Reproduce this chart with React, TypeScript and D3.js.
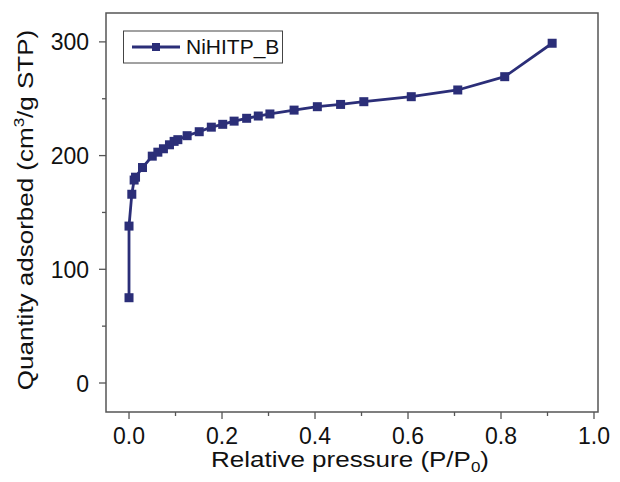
import React from "react";
import * as d3 from "d3";

const pressure = [0.0, 0.0, 0.006, 0.011, 0.014, 0.029, 0.05, 0.062, 0.074, 0.087, 0.097, 0.105, 0.125, 0.151, 0.177, 0.2015, 0.226, 0.253, 0.278, 0.303, 0.355, 0.405, 0.455, 0.505, 0.607, 0.707, 0.808, 0.91];
const quantity = [75, 138, 166, 178.5, 181, 189.5, 199.5, 203, 206, 209.5, 212.5, 214, 217.5, 221, 225, 227.5, 230.3, 232.8, 234.8, 236.6, 240, 243, 245, 247.4, 251.8, 257.7, 269.4, 298.8];
const seriesName = "NiHITP_B";
const xTicks = [0, 0.2, 0.4, 0.6, 0.8, 1.0];
const xMinorTicks = [0.1, 0.3, 0.5, 0.7, 0.9];
const yTicks = [0, 100, 200, 300];
const yMinorTicks = [50, 150, 250];

const W = 620, H = 482;
const left = 106, right = 598, top = 13, bottom = 412;
const color = "#2B2E78";
const frameColor = "#555555";
const font = "'Liberation Sans', Arial, sans-serif";

export default function App() {
  const x = d3.scaleLinear().domain([-0.0495, 1.0086]).range([left, right]);
  const y = d3.scaleLinear().domain([-25.5, 325.4]).range([bottom, top]);
  const pts: [number, number][] = pressure.map((p, i) => [x(p), y(quantity[i])]);
  const line = d3.line()(pts) || "";
  const ms = 9;
  return (
    <svg width={W} height={H} style={{ position: "absolute", left: 0, top: 0, display: "block" }} fontFamily={font}>
      <rect x={0} y={0} width={W} height={H} fill="white" />
      <rect x={left} y={top} width={right - left} height={bottom - top} fill="none" stroke={frameColor} strokeWidth={1.5} />
      {xTicks.map((t) => (
        <g key={"xt" + t}>
          <line x1={x(t)} x2={x(t)} y1={bottom} y2={bottom + 7} stroke={frameColor} strokeWidth={1.3} />
          <text x={x(t)} y={444} textAnchor="middle" fontSize={23} fill="#111">{t.toFixed(1)}</text>
        </g>
      ))}
      {xMinorTicks.map((t) => (
        <line key={"xm" + t} x1={x(t)} x2={x(t)} y1={bottom} y2={bottom + 4} stroke={frameColor} strokeWidth={1.3} />
      ))}
      {yTicks.map((t) => (
        <g key={"yt" + t}>
          <line x1={left - 7} x2={left} y1={y(t)} y2={y(t)} stroke={frameColor} strokeWidth={1.3} />
          <text x={89} y={y(t) + 8.5} textAnchor="end" fontSize={23} fill="#111">{t}</text>
        </g>
      ))}
      {yMinorTicks.map((t) => (
        <line key={"ym" + t} x1={left - 4} x2={left} y1={y(t)} y2={y(t)} stroke={frameColor} strokeWidth={1.3} />
      ))}
      <g transform="translate(350, 467) scale(1, 0.83)">
        <text x={0} y={0} textAnchor="middle" fontSize={26} fill="#111">
          Relative pressure (P/P<tspan fontSize={17} dy={6}>0</tspan><tspan dy={-6}>)</tspan>
        </text>
      </g>
      <g transform="translate(33, 210) rotate(-90) scale(1, 0.88)">
        <text x={0} y={0} textAnchor="middle" fontSize={26} fill="#111">
          Quantity adsorbed (cm<tspan fontSize={17} dy={-10}>3</tspan><tspan dy={10}>/g STP)</tspan>
        </text>
      </g>
      <path d={line} fill="none" stroke={color} strokeWidth={2.8} strokeLinejoin="round" />
      {pts.map(([px, py], i) => (
        <rect key={i} x={px - ms / 2} y={py - ms / 2} width={ms} height={ms} fill={color} />
      ))}
      <rect x={123.5} y={31} width={159} height={32} fill="white" stroke="#444" strokeWidth={1} />
      <line x1={132} x2={180} y1={47} y2={47} stroke={color} strokeWidth={2.8} />
      <rect x={156 - 4} y={47 - 4} width={8} height={8} fill={color} />
      <text x={186} y={54} fontSize={21} fill="#111">{seriesName}</text>
    </svg>
  );
}
